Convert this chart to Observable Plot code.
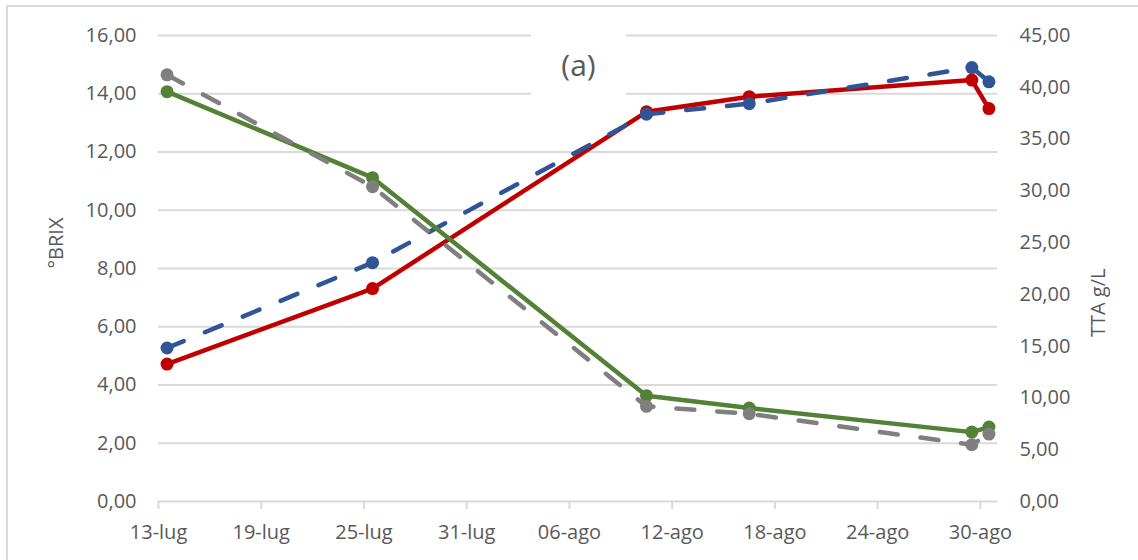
<!DOCTYPE html>
<html><head><meta charset="utf-8">
<script src="https://cdn.jsdelivr.net/npm/d3@7"></script>
<script src="https://cdn.jsdelivr.net/npm/@observablehq/plot@0.6"></script>
<style>
body{margin:0;background:#fff;font-family:"Open Sans",sans-serif;}
#frame{position:absolute;left:6px;top:5px;width:1140px;height:560px;border-left:2px solid #d9d9d9;border-top:2px solid #d9d9d9;}
#chart{position:absolute;left:0;top:0;}
#title{position:absolute;left:531px;top:33px;width:95px;height:62px;background:#fff;color:#595959;font-size:30px;display:flex;align-items:center;justify-content:center;}
</style></head><body>
<div id="frame"></div>
<div id="chart"></div>
<div id="title">(a)</div>
<script>
const dates = ["2023-07-13","2023-07-25","2023-08-10","2023-08-16","2023-08-29","2023-08-30"];
const brixRed  = [4.72, 7.31, 13.38, 13.90, 14.47, 13.49];
const brixBlue = [5.27, 8.20, 13.30, 13.66, 14.90, 14.41];
const ttaGreen = [39.58, 31.27, 10.22, 9.02, 6.70, 7.19];
const ttaGray  = [41.20, 30.40, 9.19, 8.48, 5.48, 6.51];
const xTickDates  = ["2023-07-13","2023-07-19","2023-07-25","2023-07-31","2023-08-06","2023-08-12","2023-08-18","2023-08-24","2023-08-30"];
const xTickLabels = ["13-lug","19-lug","25-lug","31-lug","06-ago","12-ago","18-ago","24-ago","30-ago"];
const brixTicks = [0,2,4,6,8,10,12,14,16];
const ttaTicks  = [0,5,10,15,20,25,30,35,40,45];

const parse = d3.utcParse("%Y-%m-%d");
const HALF = 12*3600*1000;
const k = 16/45; // TTA -> BRIX scale
const fmt = v => v.toFixed(2).replace(".", ",");

function series(vals, scale){ return dates.map((d,i)=>({x:new Date(+parse(d)+HALF), y:vals[i]*scale})); }
const red = series(brixRed,1), blue = series(brixBlue,1), green = series(ttaGreen,k), gray = series(ttaGray,k);
const tickDates = xTickDates.map(parse);
const labelMap = new Map(tickDates.map((d,i)=>[+d, xTickLabels[i]]));

const font = "'Open Sans', sans-serif";
const txt = "#595959";
const dash = "18,23";
const lw = 4.5, rr = 6.5;

const chart = Plot.plot({
  width: 1138, height: 560,
  marginLeft: 158, marginRight: 141, marginTop: 35, marginBottom: 59,
  style: {fontFamily: font, background: "transparent"},
  x: {type: "utc", domain: [parse("2023-07-13"), parse("2023-08-31")]},
  y: {domain: [0, 16]},
  marks: [
    Plot.gridY(brixTicks, {stroke: "#d9d9d9", strokeOpacity: 1, strokeWidth: 2}),
    Plot.axisX(tickDates, {tickSize: 8, tickPadding: 15, stroke: "#d9d9d9", strokeWidth: 2, strokeOpacity: 1,
      tickFormat: d => labelMap.get(+d), fontSize: 20, fill: txt, label: null}),
    Plot.axisY(brixTicks, {anchor: "left", tickSize: 0, tickPadding: 22, tickFormat: fmt, fontSize: 20, fill: txt, label: null}),
    Plot.axisY(ttaTicks.map(v => v*k), {anchor: "right", tickSize: 0, tickPadding: 22, tickFormat: d => fmt(d/k), fontSize: 20, fill: txt, label: null}),
    Plot.text(["°BRIX"], {frameAnchor: "left", dx: -102, rotate: -90, fontSize: 20, fill: txt}),
    Plot.text(["TTA g/L"], {frameAnchor: "right", dx: 101, rotate: -90, fontSize: 20, fill: txt}),
    Plot.line(red, {x: "x", y: "y", stroke: "#C00000", strokeWidth: lw}),
    Plot.dot(red, {x: "x", y: "y", r: rr, fill: "#C00000"}),
    Plot.line(blue, {x: "x", y: "y", stroke: "#2F5597", strokeWidth: lw, strokeDasharray: dash, strokeLinecap: "round"}),
    Plot.dot(blue, {x: "x", y: "y", r: rr, fill: "#2F5597"}),
    Plot.line(green, {x: "x", y: "y", stroke: "#538135", strokeWidth: lw}),
    Plot.dot(green, {x: "x", y: "y", r: rr, fill: "#538135"}),
    Plot.line(gray, {x: "x", y: "y", stroke: "#7F7F7F", strokeWidth: lw, strokeDasharray: dash, strokeLinecap: "round"}),
    Plot.dot(gray, {x: "x", y: "y", r: rr, fill: "#7F7F7F"})
  ]
});
document.getElementById("chart").appendChild(chart);
</script>
</body></html>
